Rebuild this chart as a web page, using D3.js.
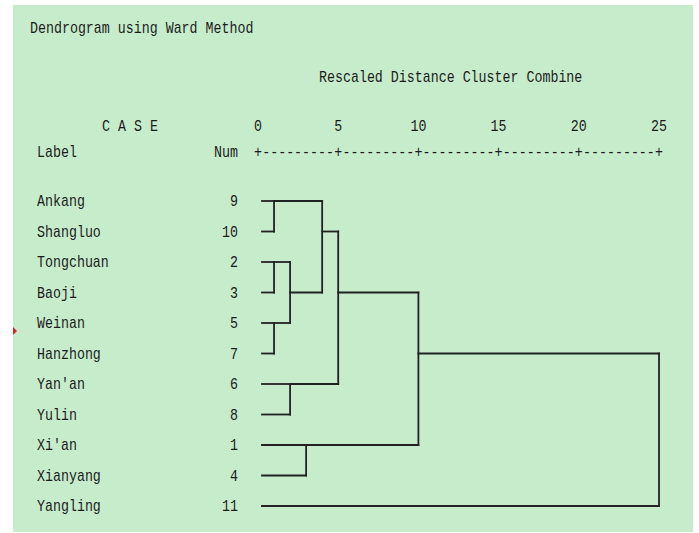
<!DOCTYPE html>
<html>
<head>
<meta charset="utf-8">
<title>Dendrogram using Ward Method</title>
<script src="https://d3js.org/d3.v7.min.js"></script>
<style>
  body { margin: 0; background: #fff; }
  text { font-family: "Liberation Mono", "DejaVu Sans Mono", monospace; font-size: 13.3px; fill: #1c1c1c; }
  .link { fill: none; stroke: #222; stroke-width: 1.8; }
</style>
</head>
<body>
<svg id="chart" width="699" height="533"></svg>
<script>
// cases in dendrogram order
const caseLabels = ["Ankang", "Shangluo", "Tongchuan", "Baoji", "Weinan", "Hanzhong",
                    "Yan'an", "Yulin", "Xi'an", "Xianyang", "Yangling"];
const caseNums = [9, 10, 2, 3, 5, 7, 6, 8, 1, 4, 11];

// agglomeration steps: [node a, node b, rescaled distance]
// nodes 0..10 are the cases above, 11.. are the clusters made by each step
const mergeA = [0, 2, 4, 12, 6, 8, 11, 17, 18, 10];
const mergeB = [1, 3, 5, 13, 7, 9, 14, 15, 16, 19];
const mergeDist = [1, 1, 1, 2, 2, 3, 4, 5, 10, 25];

const axisTicks = [0, 5, 10, 15, 20, 25];

const svg = d3.select("#chart");

svg.append("rect")
  .attr("x", 13).attr("y", 5)
  .attr("width", 680).attr("height", 527)
  .attr("fill", "#c6eccb");

// little red marker on the left edge
svg.append("path")
  .attr("d", "M13,327 L17,331 L13,335 Z")
  .attr("fill", "#e0201a");

const x = d3.scaleLinear().domain([0, 25]).range([258, 659]);
const y = d3.scaleLinear().domain([0, caseLabels.length - 1]).range([201, 506]);

// headings
svg.append("text").attr("x", 30).attr("y", 33).text("Dendrogram using Ward Method");
svg.append("text").attr("x", 319).attr("y", 82).text("Rescaled Distance Cluster Combine");
svg.append("text").attr("x", 102).attr("y", 131).text("C A S E");
svg.append("text").attr("x", 37).attr("y", 157).text("Label");
svg.append("text").attr("x", 238).attr("y", 157).attr("text-anchor", "end").text("Num");

// axis: numbers on top, "+---------+" ruler below
const axis = svg.append("g");
axis.selectAll("text.tick")
  .data(axisTicks)
  .enter().append("text")
  .attr("class", "tick")
  .attr("x", d => x(d))
  .attr("y", 131)
  .attr("text-anchor", "middle")
  .text(d => d);

axis.selectAll("text.plus")
  .data(axisTicks)
  .enter().append("text")
  .attr("class", "plus")
  .attr("x", d => x(d))
  .attr("y", 157)
  .attr("text-anchor", "middle")
  .text("+");

axis.selectAll("text.dash")
  .data(d3.pairs(axisTicks))
  .enter().append("text")
  .attr("class", "dash")
  .attr("x", d => (x(d[0]) + x(d[1])) / 2)
  .attr("y", 157)
  .attr("text-anchor", "middle")
  .text("---------");

// case labels and numbers
const rows = svg.append("g");
rows.selectAll("text.label")
  .data(caseLabels)
  .enter().append("text")
  .attr("class", "label")
  .attr("x", 37)
  .attr("y", (d, i) => y(i) + 5)
  .text(d => d);

rows.selectAll("text.num")
  .data(caseNums)
  .enter().append("text")
  .attr("class", "num")
  .attr("x", 238)
  .attr("y", (d, i) => y(i) + 5)
  .attr("text-anchor", "end")
  .text(d => d);

// the SPSS font is taller and narrower, so stretch all text a bit vertically
svg.selectAll("text").each(function() {
  const t = d3.select(this);
  const tx = +t.attr("x"), ty = +t.attr("y");
  t.attr("x", null).attr("y", null)
    .attr("transform", `translate(${tx},${ty}) scale(1,1.2)`);
});

// build the tree, SPSS style: a cluster sits on the (floored) middle row of its two parts
let nodes = caseLabels.map((d, i) => ({ row: i, dist: 0, leaf: true }));
let segs = [];
mergeA.forEach((a, k) => {
  const b = mergeB[k];
  const d = mergeDist[k];
  const na = nodes[a], nb = nodes[b];
  [na, nb].forEach(n => {
    const x0 = n.leaf ? x(0) + 4 : x(n.dist);
    segs.push([x0, y(n.row), x(d), y(n.row)]);
  });
  segs.push([x(d), y(na.row), x(d), y(nb.row)]);
  nodes.push({ row: Math.floor((na.row + nb.row) / 2), dist: d, leaf: false });
});

svg.append("g")
  .selectAll("line")
  .data(segs)
  .enter().append("line")
  .attr("class", "link")
  .attr("x1", d => d[0])
  .attr("y1", d => d[1])
  .attr("x2", d => d[2])
  .attr("y2", d => d[3])
  .attr("stroke-linecap", "square");
</script>
</body>
</html>
